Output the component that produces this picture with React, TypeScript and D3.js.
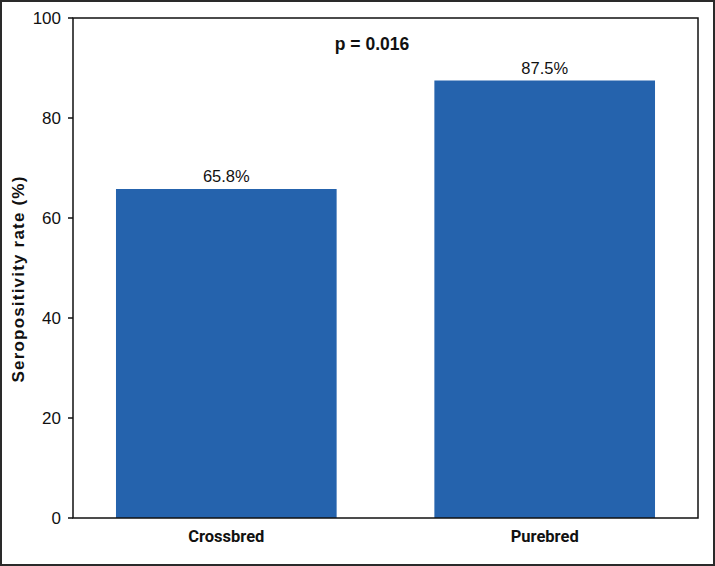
import React from "react";
import * as d3 from "d3";

const categories = ["Crossbred", "Purebred"];
const values = [65.8, 87.5];
const valueLabels = ["65.8%", "87.5%"];
const yTicks = [0, 20, 40, 60, 80, 100];
const pLabel = "p = 0.016";
const yLabel = "Seropositivity rate (%)";

const W = 715;
const H = 566;
const left = 73;
const right = 698;
const top = 18;
const bottom = 518;

export default function App() {
  const x = d3
    .scaleBand<string>()
    .domain(categories)
    .range([left, right])
    .paddingInner(0.307)
    .paddingOuter(0.135);
  const y = d3.scaleLinear().domain([0, 100]).range([bottom, top]);
  const font = "'Liberation Sans', Arial, sans-serif";

  return (
    <svg
      width={W}
      height={H}
      style={{ position: "fixed", left: 0, top: 0, background: "#fff" }}
    >
      <rect x={1} y={1} width={W - 2} height={H - 2} fill="#fff" stroke="#2a2a2a" strokeWidth={2} />
      {categories.map((c, i) => (
        <g key={c}>
          <rect
            x={x(c)!}
            y={y(values[i])}
            width={x.bandwidth()}
            height={y(0) - y(values[i])}
            fill="#2563ad"
          />
          <text
            x={x(c)! + x.bandwidth() / 2}
            y={y(values[i]) - 7}
            textAnchor="middle"
            fontFamily={font}
            fontSize={16.5}
            fill="#111"
          >
            {valueLabels[i]}
          </text>
          <text
            x={x(c)! + x.bandwidth() / 2}
            y={542}
            textAnchor="middle"
            fontFamily="Roboto, sans-serif"
            fontWeight="bold"
            fontSize={16.5}
            fill="#111"
          >
            {c}
          </text>
        </g>
      ))}
      <rect x={left} y={top} width={right - left} height={bottom - top} fill="none" stroke="#111" strokeWidth={1.5} />
      {yTicks.map((t) => (
        <g key={t}>
          <line x1={left - 5} x2={left} y1={y(t)} y2={y(t)} stroke="#111" strokeWidth={1.5} />
          <text
            x={left - 12}
            y={y(t) + 6}
            textAnchor="end"
            fontFamily={font}
            fontSize={17}
            fill="#111"
          >
            {t}
          </text>
        </g>
      ))}
      <text
        transform={`translate(24,${279}) rotate(-90)`}
        textAnchor="middle"
        fontFamily={font}
        fontWeight="bold"
        fontSize={17}
        letterSpacing={1.2}
        fill="#111"
      >
        {yLabel}
      </text>
      <text
        x={372}
        y={50}
        textAnchor="middle"
        fontFamily={font}
        fontWeight="bold"
        fontSize={17.5}
        fill="#111"
      >
        {pLabel}
      </text>
    </svg>
  );
}
